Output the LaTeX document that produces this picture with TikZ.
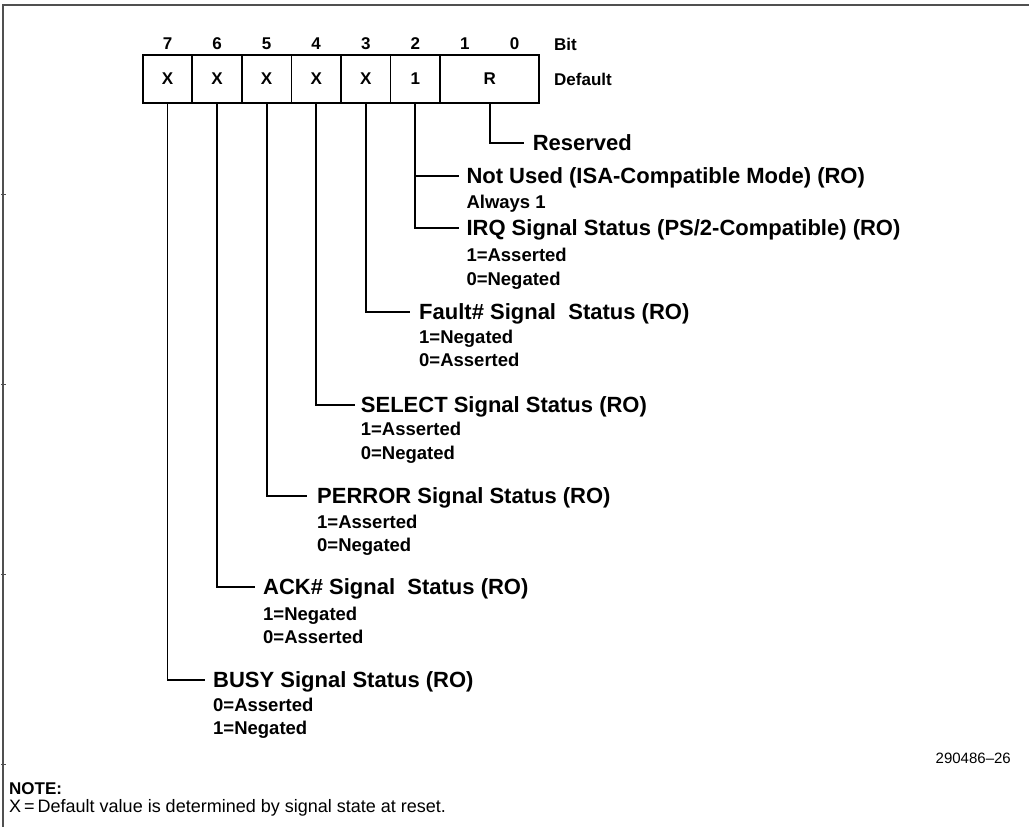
\documentclass[tikz,border=0pt]{standalone}
\usepackage{fontspec}
\setmainfont{Liberation Sans}
\definecolor{framec}{HTML}{505050}
\begin{document}
\begin{tikzpicture}[x=1pt,y=-1pt,
  cell/.style={draw, line width=1.8pt, minimum width=49.575pt, minimum height=48pt, inner sep=0pt, font=\fontsize{17}{20}\selectfont\bfseries},
  bitnum/.style={inner sep=0pt, font=\fontsize{17}{20}\selectfont\bfseries},
  side/.style={anchor=west, inner sep=0pt, font=\fontsize{17}{20}\selectfont\bfseries},
  title/.style={anchor=base west, inner sep=0pt, font=\fontsize{22}{26}\selectfont\bfseries},
  sub/.style={anchor=base west, inner sep=0pt, font=\fontsize{18.5}{22}\selectfont\bfseries},
  lead/.style={line width=1.8pt},
  framestyle/.style={draw=framec, line width=2.2pt},
  tick/.style={draw=framec, line width=1pt},
  notestyle/.style={anchor=base west, inner sep=0pt, font=\fontsize{18}{21}\selectfont}]
\useasboundingbox (0,0) rectangle (1029,827);
% frame
\draw[framestyle] (3,827) -- (3,5) -- (1029,5);
\foreach \ty in {194,384,574,764} \draw[tick] (1,\ty) -- (6,\ty);
% bit numbers
\foreach \b/\cx in {7/167.49,6/217.06,5/266.64,4/316.21,3/365.79,2/415.36,1/464.94,0/514.51}
  \node[bitnum] (n\b) at (\cx,44) {\b};
\node[side] (bitlbl) at (554,44) {Bit};
\node[side] (deflbl) at (554,79) {Default};
% register cells
\node[cell] (c7) at (167.49,79) {X};
\node[cell] (c6) at (217.06,79) {X};
\node[cell] (c5) at (266.64,79) {X};
\node[cell] (c4) at (316.21,79) {X};
\node[cell] (c3) at (365.79,79) {X};
\node[cell] (c2) at (415.36,79) {1};
\node[cell, minimum width=99.15pt] (cR) at (489.725,79) {R};
% leader end coordinates
\coordinate (resL) at (523.7,143);
\coordinate (nuL) at (459,176);
\coordinate (irqL) at (459,228);
\coordinate (faultL) at (410,312);
\coordinate (selL) at (355,405);
\coordinate (perL) at (307,496);
\coordinate (ackL) at (255,587);
\coordinate (busyL) at (205,680);
% leaders
\draw[lead] (cR.south) |- (resL);
\draw[lead] (c2.south) |- (irqL);
\draw[lead] (c2.south |- nuL) -- (nuL);
\draw[lead] (c3.south) |- (faultL);
\draw[lead] (c4.south) |- (selL);
\draw[lead] (c5.south) |- (perL);
\draw[lead] (c6.south) |- (ackL);
\draw[lead] (c7.south) |- (busyL);
% labels
\node[title] (res) at (532.6,150.6) {Reserved};
\node[title] (nu) at (466.3,183.6) {Not Used (ISA-Compatible Mode) (RO)};
\node[sub] (nu1) at (466.3,208.4) {Always 1};
\node[title] (irq) at (466.3,235.6) {IRQ Signal Status (PS/2-Compatible) (RO)};
\node[sub] (irq1) at (466.3,261.4) {1=Asserted};
\node[sub] (irq2) at (466.3,285.4) {0=Negated};
\node[title] (fault) at (419,319.6) {Fault\# Signal\ \ Status (RO)};
\node[sub] (fault1) at (419,343.4) {1=Negated};
\node[sub] (fault2) at (419,366.4) {0=Asserted};
\node[title] (sel) at (360.7,412.6) {SELECT Signal Status (RO)};
\node[sub] (sel1) at (360.7,435.4) {1=Asserted};
\node[sub] (sel2) at (360.7,459.4) {0=Negated};
\node[title] (per) at (317,503.6) {PERROR Signal Status (RO)};
\node[sub] (per1) at (317,528.4) {1=Asserted};
\node[sub] (per2) at (317,551.4) {0=Negated};
\node[title] (ack) at (263,594.6) {ACK\# Signal\ \ Status (RO)};
\node[sub] (ack1) at (263,620.4) {1=Negated};
\node[sub] (ack2) at (263,643.4) {0=Asserted};
\node[title] (busy) at (213,687.6) {BUSY Signal Status (RO)};
\node[sub] (busy1) at (213,711.4) {0=Asserted};
\node[sub] (busy2) at (213,734.4) {1=Negated};
% figure number and note
\node[anchor=base east, inner sep=0pt, font=\fontsize{15}{18}\selectfont] (fig) at (1011,763) {290486–26};
\node[notestyle, font=\fontsize{17}{20}\selectfont\bfseries] (note) at (9,794) {NOTE:};
\node[notestyle] (notetxt) at (9,812) {X\,=\,Default value is determined by signal state at reset.};
\end{tikzpicture}
\end{document}
